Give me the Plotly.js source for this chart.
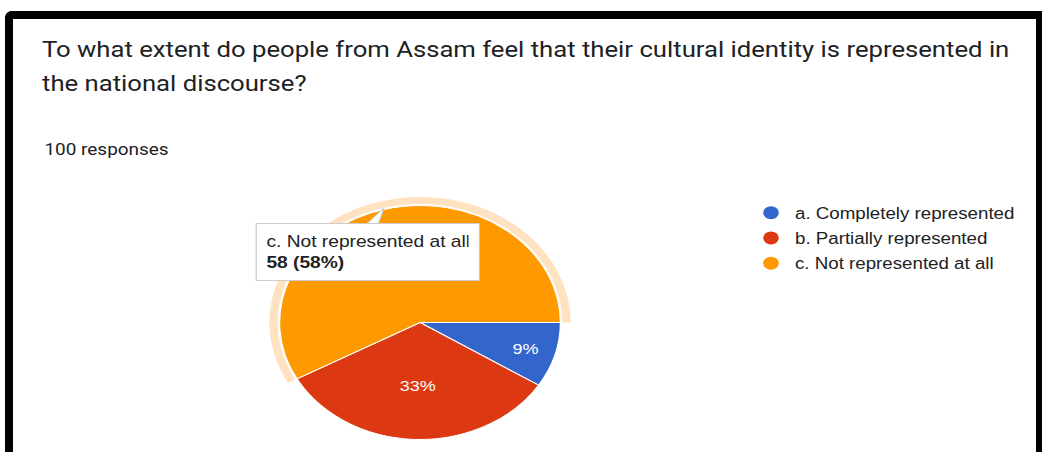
<!DOCTYPE html>
<html>
<head>
<meta charset="utf-8">
<script src="https://cdn.plot.ly/plotly-3.0.1.min.js"></script>
<style>
  html, body { margin: 0; padding: 0; background: #fff; overflow: hidden; }
  #wrap { position: relative; width: 1042px; height: 452px; overflow: hidden; background: #fff; }
  #plot { position: absolute; left: 0; top: 0; width: 868px; height: 452px; transform: scale(1.2, 1); transform-origin: 0 0; }
  #frame { position: absolute; left: 5px; top: 11px; width: 1023px; height: 460px; border: 8px solid #000; border-bottom: none; border-top-left-radius: 7px; pointer-events: none; }
</style>
</head>
<body>
<div id="wrap">
  <div id="plot"></div>
  <div id="frame"></div>
</div>
<script>
// ---- data ----
const questionLines = [
  'To what extent do people from Assam feel that their cultural identity is represented in',
  'the national discourse?'
];
const categories = ['a. Completely represented', 'b. Partially represented', 'c. Not represented at all'];
const responses = [9, 33, 58];
const shownPercentLabels = [true, true, false];
const highlightedIndex = 2;
const sliceColors = ['#3366cc', '#dc3912', '#ff9900'];
const highlightColor = '#ffe2bf';

// ---- derived ----
const total = responses.reduce((a, b) => a + b, 0);
const W = 868, H = 452;
const px = x => x / W;          // pixel -> paper x
const py = y => 1 - y / H;      // pixel -> paper y

const cx = 350, cy = 322.5, r = 117, rRing = 125.5, rRingIn = 118.5;

const mainPie = {
  type: 'pie',
  labels: categories,
  values: responses,
  sort: false,
  direction: 'clockwise',
  rotation: 90,
  marker: { colors: sliceColors, line: { color: '#ffffff', width: 1 } },
  texttemplate: shownPercentLabels.map(s => s ? '%{percent:.0%}' : ''),
  textposition: 'inside',
  insidetextorientation: 'horizontal',
  textfont: { family: 'Arial, Liberation Sans, sans-serif', size: 15, color: '#ffffff' },
  hoverinfo: 'skip',
  showlegend: false,
  domain: { x: [px(cx - r), px(cx + r)], y: [py(cy + r), py(cy - r)] }
};

const ringPie = {
  type: 'pie',
  labels: categories,
  values: responses,
  sort: false,
  direction: 'clockwise',
  rotation: 90,
  hole: rRingIn / rRing,
  marker: {
    colors: categories.map((c, i) => i === highlightedIndex ? highlightColor : 'rgba(0,0,0,0)'),
    line: { width: 0 }
  },
  textinfo: 'none',
  hoverinfo: 'skip',
  showlegend: false,
  domain: { x: [px(cx - rRing), px(cx + rRing)], y: [py(cy + rRing), py(cy - rRing)] }
};

const legendTraces = categories.map((c, i) => ({
  type: 'scatter',
  mode: 'markers',
  x: [null], y: [null],
  name: c,
  legendgroup: 'g' + i,
  marker: { color: sliceColors[i], size: 13, symbol: 'circle' },
  hoverinfo: 'skip'
}));

const pct = Math.round(responses[highlightedIndex] / total * 100);
const tipText = categories[highlightedIndex] + '<br><b>' + responses[highlightedIndex] + ' (' + pct + '%)</b>';

const layout = {
  width: W, height: H,
  margin: { l: 0, r: 0, t: 0, b: 0 },
  paper_bgcolor: '#ffffff',
  plot_bgcolor: '#ffffff',
  hovermode: false,
  title: {
    text: questionLines.map(l => '<span style="font-size:21.4px">' + l + '</span>').join('<br>'),
    font: { family: 'Roboto, sans-serif', size: 25.8, color: '#202124' },
    x: px(35), xref: 'paper', xanchor: 'left',
    y: py(57), yref: 'container', yanchor: 'top'
  },
  xaxis: { visible: false, fixedrange: true },
  yaxis: { visible: false, fixedrange: true },
  showlegend: true,
  legend: {
    x: px(622.5), y: py(196), xanchor: 'left', yanchor: 'top',
    bgcolor: 'rgba(0,0,0,0)',
    font: { family: 'Arial, Liberation Sans, sans-serif', size: 15.6, color: '#222222' },
    itemsizing: 'trace',
    tracegroupgap: 2,
    traceorder: 'grouped'
  },
  annotations: [
    {
      text: total + ' responses',
      xref: 'paper', yref: 'paper', x: px(35), y: py(150),
      xanchor: 'left', yanchor: 'middle', showarrow: false,
      font: { family: 'Roboto, sans-serif', size: 15.8, color: '#202124' }
    },
    {
      text: tipText,
      xref: 'paper', yref: 'paper', x: px(212.5), y: py(223),
      xanchor: 'left', yanchor: 'top', showarrow: false, align: 'left',
      width: 168.5, height: 40, borderpad: 8, borderwidth: 1,
      bordercolor: '#cccccc', bgcolor: '#ffffff',
      font: { family: 'Arial, Liberation Sans, sans-serif', size: 16, color: '#222222' }
    }
  ],
  shapes: [
    {
      type: 'path', xref: 'paper', yref: 'paper', layer: 'above',
      path: 'M ' + px(305) + ' ' + py(224.5) + ' L ' + px(320) + ' ' + py(208) + ' L ' + px(315) + ' ' + py(224.5) + ' Z',
      fillcolor: '#ffffff', line: { color: '#cccccc', width: 1 }
    }
  ]
};

Plotly.newPlot('plot', [ringPie, mainPie].concat(legendTraces), layout, { staticPlot: true, displayModeBar: false });
</script>
</body>
</html>
